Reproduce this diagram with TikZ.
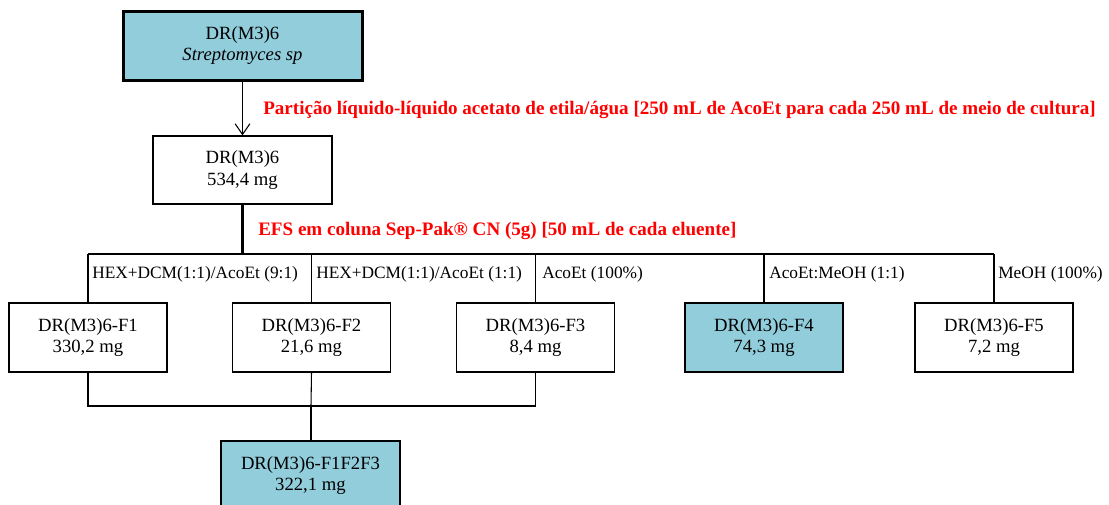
\documentclass[tikz,border=0pt]{standalone}
\usepackage{fontspec}
\setmainfont{Liberation Serif}
\usepackage{tikz}
\usetikzlibrary{positioning, arrows.meta}

\definecolor{boxblue}{RGB}{146,205,220}

\begin{document}
\begin{tikzpicture}[x=0.75pt, y=-0.75pt,
  box/.style={draw, line width=0.9pt, align=center, inner sep=0pt, minimum height=51.75pt, font=\fontsize{14}{16.25}\selectfont},
  fbox/.style={box, minimum width=118.5pt},
  hit/.style={fill=boxblue},
  lbl/.style={anchor=west, inner sep=0pt, font=\fontsize{13}{15}\selectfont},
  note/.style={anchor=west, inner sep=0pt, text=red, font=\fontsize{14.3}{16}\selectfont\bfseries},
  link/.style={line width=0.8pt}]

\useasboundingbox (0,0) rectangle (1109,504);

% Strain and crude extract
\node[box, hit, line width=2.25pt, minimum width=179.25pt] (strain) at (242.5,45.5) {DR(M3)6\\ \textit{Streptomyces sp}};
\node[box, minimum width=134.25pt, minimum height=51pt] (crude) at (242.5,170) {DR(M3)6\\ 534,4 mg};

\draw[link, -{Straight Barb[length=8pt, width=11pt]}] (strain) -- (crude);
\node[note] (part) at (263,110) {Partição líquido-líquido acetato de etila/água [250 mL de AcoEt para cada 250 mL de meio de cultura]};

% Fractions
\node[fbox] (f1) at (88,337.5) {DR(M3)6-F1\\ 330,2 mg};
\node[fbox] (f2) at (311.5,337.5) {DR(M3)6-F2\\ 21,6 mg};
\node[fbox] (f3) at (535.5,337.5) {DR(M3)6-F3\\ 8,4 mg};
\node[fbox, hit] (f4) at (764,337.5) {DR(M3)6-F4\\ 74,3 mg};
\node[fbox] (f5) at (994,337.5) {DR(M3)6-F5\\ 7,2 mg};

% SPE column
\coordinate (bus) at (242.5,254);
\draw[line width=2pt] (crude) -- (bus);
\node[note] (efs) at (258,231) {EFS em coluna Sep-Pak® CN (5g) [50 mL de cada eluente]};
\draw[line width=1.3pt] (f1.north |- bus) -- (f5.north |- bus);
\foreach \f in {f1,f2,f3,f4,f5}
  \draw[link] (\f.north |- bus) -- (\f.north);

% Eluents
\node[lbl] (e1) at (92,274) {HEX+DCM(1:1)/AcoEt (9:1)};
\node[lbl] (e2) at (316,274) {HEX+DCM(1:1)/AcoEt (1:1)};
\node[lbl] (e3) at (542,274) {AcoEt (100\%)};
\node[lbl] (e4) at (769,274) {AcoEt:MeOH (1:1)};
\node[lbl] (e5) at (998,274) {MeOH (100\%)};

% Pooled fractions
\node[box, hit, minimum width=134.25pt] (pool) at (310.5,475.5) {DR(M3)6-F1F2F3\\ 322,1 mg};
\coordinate (join) at (311,406);
\draw[link] (f1.south) |- (join) -| (f3.south);
\draw[link] (f2.south) -- (join);
\draw[line width=1.1pt] (join) -- (pool.north -| join);

\end{tikzpicture}
\end{document}
